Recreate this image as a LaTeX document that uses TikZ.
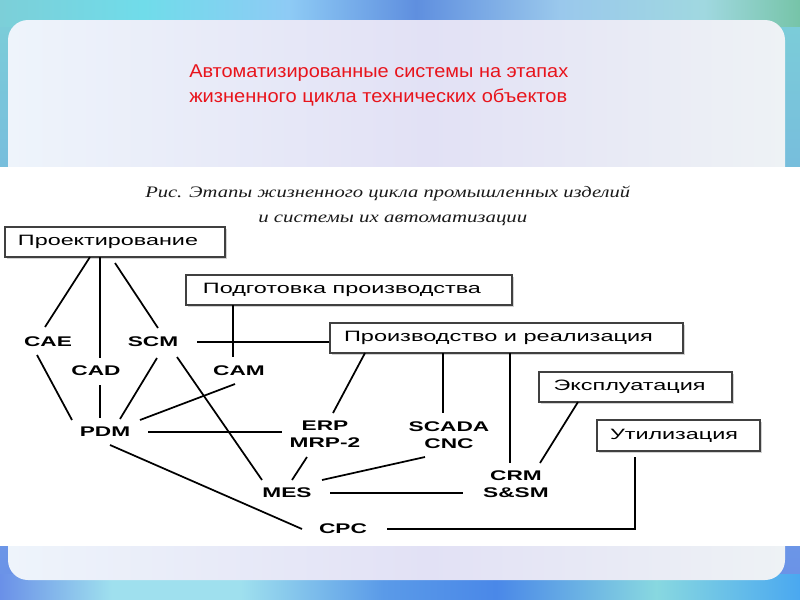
\documentclass[tikz,border=0pt]{standalone}
\usepackage{fontspec}
\setmainfont{Liberation Sans}
\newfontfamily\capfont{Liberation Serif}
\usetikzlibrary{calc,shadows}
\newlength\pxu \setlength\pxu{0.75pt}
\newcommand\lb[1]{\scalebox{1.62}[1]{#1}}
\newcommand\fitw[2]{\resizebox{#1\pxu}{\height}{#2}}
\definecolor{titlered}{HTML}{E8141C}
\definecolor{capgray}{HTML}{1A1A1A}
\definecolor{tA}{HTML}{7CCFD8}
\definecolor{tB}{HTML}{70DCEA}
\definecolor{tC}{HTML}{8ECBF5}
\definecolor{tD}{HTML}{5F8FDF}
\definecolor{tE}{HTML}{9AC8EC}
\definecolor{tF}{HTML}{A0D8E0}
\definecolor{tG}{HTML}{76C4A8}
\definecolor{bA}{HTML}{6A90E8}
\definecolor{bB}{HTML}{9FE0EE}
\definecolor{bC}{HTML}{5A9AE8}
\definecolor{bD}{HTML}{4A88E8}
\definecolor{bE}{HTML}{88D8E0}
\definecolor{bF}{HTML}{4AA8F0}
\definecolor{iA}{HTML}{EEF4FB}
\definecolor{iB}{HTML}{E2E1F5}
\definecolor{iC}{HTML}{EEF2F5}
\pgfdeclarehorizontalshading{topbg}{100bp}{color(0bp)=(tA); color(25bp)=(tA); color(34bp)=(tB); color(43bp)=(tC); color(51bp)=(tD); color(60bp)=(tE); color(69bp)=(tF); color(75bp)=(tG); color(100bp)=(tG)}
\pgfdeclarehorizontalshading{botbg}{100bp}{color(0bp)=(bA); color(25bp)=(bA); color(32bp)=(bB); color(40bp)=(bB); color(49bp)=(bC); color(56bp)=(bD); color(66bp)=(bE); color(75bp)=(bF); color(100bp)=(bF)}
\pgfdeclarehorizontalshading{innerbg}{100bp}{color(0bp)=(iA); color(25bp)=(iA); color(52bp)=(iB); color(75bp)=(iC); color(100bp)=(iC)}
\begin{document}
\begin{tikzpicture}[x=0.75pt,y=-0.75pt,
  stagebox/.style={draw=black!75, line width=0.9pt, fill=white, minimum height=22.5pt,
    inner sep=0pt, font=\fontsize{11.25pt}{13pt}\selectfont,
    drop shadow={shadow xshift=1.3pt, shadow yshift=-1.3pt, fill=black!35}},
  lab/.style={inner sep=0pt, align=center, font=\fontsize{10.5pt}{12.75pt}\selectfont\bfseries},
  conn/.style={line width=1.3pt, black},
  titletext/.style={inner sep=0pt, text=titlered, font=\fontsize{13.9pt}{16pt}\selectfont},
  captext/.style={inner sep=0pt, text=capgray, font=\capfont\itshape\fontsize{12pt}{14pt}\selectfont}]
\useasboundingbox (0,0) rectangle (800,600);
% background
\shade[top color=tA, bottom color=bA] (0,0) rectangle (800,600);
\shade[shading=topbg] (0,0) rectangle (800,26);
\shade[shading=botbg] (0,574) rectangle (800,600);
\shade[shading=innerbg, rounded corners=15pt] (8,20) rectangle (785,580);
\fill[white] (0,167) rectangle (800,546);
% title
\node[titletext, anchor=base west] (t1) at (189,77) {\fitw{379}{Автоматизированные системы на этапах}};
\node[titletext, anchor=base west] (t2) at (189,102) {\fitw{378}{жизненного цикла технических объектов}};
% caption
\node[captext, anchor=base west] (c1) at (145,197) {\fitw{485}{Рис. Этапы жизненного цикла промышленных изделий}};
\node[captext, anchor=base west] (c2) at (258,222) {\fitw{269}{и системы их автоматизации}};
% stage boxes
\node[stagebox, minimum width=165pt] (proj) at (115,242) {\fitw{180}{Проектирование}\kern14\pxu};
\node[stagebox, minimum width=244.5pt] (prep) at (349,290) {\fitw{278}{Подготовка производства}\kern14\pxu};
\node[stagebox, minimum width=264.75pt] (prod) at (506.5,338) {\fitw{309}{Производство и реализация}\kern16\pxu};
\node[stagebox, minimum width=144.75pt] (expl) at (635.5,387) {\fitw{152}{Эксплуатация}\kern12\pxu};
\node[stagebox, minimum width=122.25pt, minimum height=23.25pt] (util) at (678.5,435.5) {\fitw{128}{Утилизация}\kern9\pxu};
% system labels
\node[lab] (CAE) at (48,342) {\lb{CAE}};
\node[lab] (SCM) at (153,342) {\lb{SCM}};
\node[lab] (CAD) at (96,371) {\lb{CAD}};
\node[lab] (CAM) at (239,371) {\lb{CAM}};
\node[lab] (PDM) at (105,432) {\lb{PDM}};
\node[lab] (ERP) at (325,434.5) {\lb{ERP}\\\lb{MRP-2}};
\node[lab] (SCADA) at (449,435) {\lb{SCADA}\\\lb{CNC}};
\node[lab] (MES) at (287,493) {\lb{MES}};
\node[lab] (CPC) at (343,529) {\lb{CPC}};
\node[lab] (CRM) at (516,484) {\lb{CRM}\\\lb{S\&SM}};
% connectors
\draw[conn] ($(proj)+(-25,15)$) -- ($(CAE)+(-3,-15)$);
\draw[conn] ($(proj)+(-15,15)$) -- ($(CAD)+(4,-13)$);
\draw[conn] ($(proj)+(0,21)$) -- ($(SCM)+(5,-14)$);
\draw[conn] ($(SCM)+(44,0)$) -- (prod.west |- SCM);
\draw[conn] ($(prep)+(-116,15)$) -- ($(CAM)+(-6,-14)$);
\draw[conn] ($(CAE)+(-11,13)$) -- ($(PDM)+(-33,-12)$);
\draw[conn] ($(CAD)+(4,14)$) -- ($(PDM)+(-5,-14)$);
\draw[conn] ($(SCM)+(4,16)$) -- ($(PDM)+(15,-13)$);
\draw[conn] ($(SCM)+(24,15)$) -- ($(MES)+(-25,-13)$);
\draw[conn] ($(CAM)+(-4,13)$) -- ($(PDM)+(35,-12)$);
\draw[conn] ($(PDM)+(43,0)$) -- ($(ERP)+(-43,-2.5)$);
\draw[conn] ($(PDM)+(5,13)$) -- ($(CPC)+(-41,0)$);
\draw[conn] ($(prod)+(-141.5,15)$) -- ($(ERP)+(8,-21.5)$);
\draw[conn] ($(ERP)+(-18,22.5)$) -- ($(MES)+(5,-13)$);
\draw[conn] ($(SCADA)+(-24,22)$) -- ($(MES)+(35,-13)$);
\draw[conn] ($(MES)+(43,0)$) -- ($(CRM)+(-53,9)$);
\draw[conn] ($(CPC)+(44,0)$) -| ($(util)+(-43.5,21.5)$);
\draw[conn] ($(prod)+(-63.5,15)$) -- ($(SCADA)+(-6,-22)$);
\draw[conn] ($(prod)+(3.5,15)$) -- ($(CRM)+(-6,-21)$);
\draw[conn] ($(expl)+(-57.5,15)$) -- ($(CRM)+(24,-21)$);
\end{tikzpicture}
\end{document}
